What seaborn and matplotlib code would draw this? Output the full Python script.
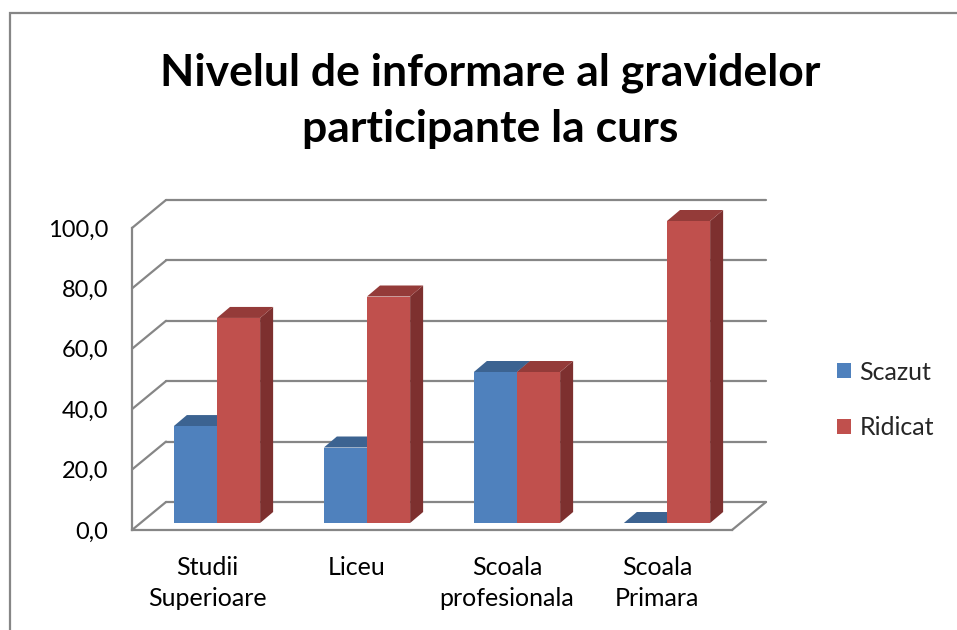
import numpy as np
import pandas as pd
import matplotlib
matplotlib.use("Agg")
import matplotlib.pyplot as plt
import seaborn as sns
from matplotlib.transforms import ScaledTranslation, IdentityTransform
from matplotlib.patches import Polygon, Rectangle
from matplotlib.lines import Line2D

# ---- data ----
categories = ["Studii\nSuperioare", "Liceu", "Scoala\nprofesionala", "Scoala\nPrimara"]
series = ["Scazut", "Ridicat"]
scazut = [32.1, 25.0, 50.0, 0.0]
ridicat = [67.9, 75.0, 50.0, 100.0]
yticks = [0, 20, 40, 60, 80, 100]
title = "Nivelul de informare al gravidelor\nparticipante la curs"

df = pd.DataFrame({
    "cat": categories * 2,
    "serie": [series[0]] * len(categories) + [series[1]] * len(categories),
    "val": scazut + ridicat,
})

sns.set_style("white")
plt.rcParams["font.family"] = ["Lato", "DejaVu Sans"]

DPI = 100
W, H = 957, 630
fig = plt.figure(figsize=(W / DPI, H / DPI), dpi=DPI)
fig.patch.set_facecolor("white")

gridcol = "#868686"
front_col = {"Scazut": "#4F81BD", "Ridicat": "#C0504D"}
top_col = {"Scazut": "#3C6391", "Ridicat": "#943B39"}
side_col = {"Scazut": "#385D89", "Ridicat": "#7D302F"}

ax = fig.add_axes([132 / W, 1 - 530 / H, 600 / W, 302 / H])
sns.barplot(data=df, x="cat", y="val", hue="serie", hue_order=series,
            palette=front_col, width=0.575, gap=0, saturation=1,
            errorbar=None, linewidth=0, zorder=3, ax=ax, legend=False)
ax.set_xlim(-0.5, len(categories) - 0.5)
ax.set_ylim(0, 100)
ax.set_facecolor("none")
ax.set_xlabel("")
ax.set_ylabel("")

# ---- 3D look: bar offset inside the box, depth faces ----
bar_off = np.array([10.0, 7.0])     # px
depth = np.array([13.0, 11.0])      # px
wall = np.array([34.0, 28.0])       # px

off_t = ScaledTranslation(bar_off[0] / DPI, bar_off[1] / DPI, fig.dpi_scale_trans)
T = ax.transData
n = len(categories)
bars = list(ax.patches)[: 2 * n]
handles = [Rectangle((0, 0), 1, 1, facecolor=front_col[s], edgecolor="none") for s in series]
for i, p in enumerate(bars):
    s = series[i // n]
    x0, y0, w, h = p.get_x(), p.get_y(), p.get_width(), p.get_height()
    A = T.transform((x0, y0 + h)) + bar_off
    B = T.transform((x0 + w, y0 + h)) + bar_off
    C = T.transform((x0 + w, y0)) + bar_off
    side = Polygon([C, B, B + depth, C + depth], closed=True, transform=IdentityTransform(),
                   facecolor=side_col[s], edgecolor="none", zorder=2.5, clip_on=False)
    top = Polygon([A, B, B + depth, A + depth], closed=True, transform=IdentityTransform(),
                  facecolor=top_col[s], edgecolor="none", zorder=2.6, clip_on=False)
    ax.add_patch(side)
    ax.add_patch(top)
    p.set_transform(T + off_t)
    p.set_clip_on(False)

# ---- walls / gridlines ----
xl = ax.get_xlim()
lw = 1.6
for v in yticks:
    L = T.transform((xl[0], v))
    R = T.transform((xl[1], v))
    ax.add_line(Line2D([L[0] + wall[0], R[0] + wall[0]], [L[1] + wall[1], R[1] + wall[1]],
                       transform=IdentityTransform(), color=gridcol, lw=lw, zorder=1, clip_on=False))
    ax.add_line(Line2D([L[0], L[0] + wall[0]], [L[1], L[1] + wall[1]],
                       transform=IdentityTransform(), color=gridcol, lw=lw, zorder=1, clip_on=False))
R0 = T.transform((xl[1], 0))
ax.add_line(Line2D([R0[0], R0[0] + wall[0]], [R0[1], R0[1] + wall[1]],
                   transform=IdentityTransform(), color=gridcol, lw=lw, zorder=1, clip_on=False))

for sp in ["top", "right"]:
    ax.spines[sp].set_visible(False)
for sp in ["left", "bottom"]:
    ax.spines[sp].set_color(gridcol)
    ax.spines[sp].set_linewidth(lw)
    ax.spines[sp].set_zorder(1)

ax.set_yticks(yticks, labels=[f"{v:.1f}".replace(".", ",") for v in yticks])
ax.tick_params(axis="y", length=5, width=lw, color=gridcol, labelsize=17, pad=12, labelcolor="black")
ax.set_xticks([i - 0.5 for i in range(n + 1)], labels=[""] * (n + 1))
ax.set_xticks(range(n), labels=categories, minor=True)
ax.tick_params(axis="x", which="major", length=5, width=lw, color=gridcol)
ax.tick_params(axis="x", which="minor", length=0, labelsize=18, pad=19, labelcolor="black")
for t in ax.get_xticklabels(minor=True):
    t.set_linespacing(1.375)

# ---- legend ----
ax.legend(handles, series, loc="center left", bbox_to_anchor=(837 / W, 1 - 400 / H),
          bbox_transform=fig.transFigure, frameon=False,
          fontsize=18, handlelength=0.55, handleheight=0.55, labelspacing=1.3,
          handletextpad=0.35, borderpad=0, borderaxespad=0)

# ---- title ----
fig.text(490 / W, 1 - 101 / H, title, ha="center", va="center", fontsize=32,
         fontweight="bold", linespacing=1.48, color="black")

# ---- outer frame ----
fig.add_artist(Rectangle((10 / W, -0.1), 1.2, 1.1 - 13 / H, transform=fig.transFigure,
                         fill=False, edgecolor=gridcol, lw=1.6))

fig.savefig("out.png", dpi=DPI, facecolor="white")
